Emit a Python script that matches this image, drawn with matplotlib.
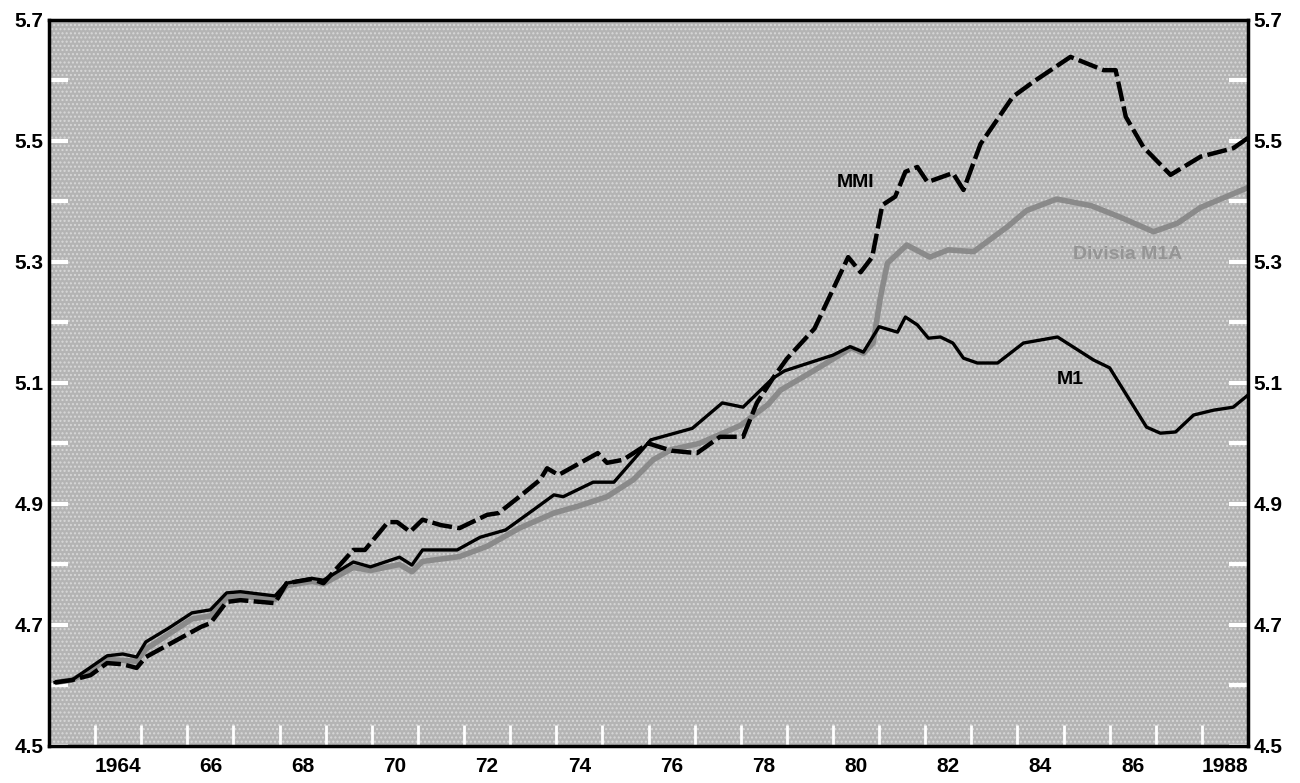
import matplotlib
matplotlib.use("Agg")
import matplotlib.pyplot as plt
import numpy as np

# series (log levels), dates in years
m1_dates = [1963.13, 1963.5, 1963.9, 1964.26, 1964.6, 1964.9, 1965.1, 1965.6, 1966.1, 1966.5,
            1966.85, 1967.15, 1967.9, 1968.15, 1968.7, 1968.95, 1969.6, 1969.97, 1970.6, 1970.87,
            1971.1, 1971.85, 1972.35, 1972.9, 1973.5, 1973.95, 1974.15, 1974.8, 1975.25, 1976.05,
            1976.95, 1977.6, 1978.05, 1978.7, 1978.95, 1980.0, 1980.37, 1980.66, 1981.0, 1981.4,
            1981.57, 1981.83, 1982.07, 1982.33, 1982.6, 1982.83, 1983.13, 1983.57, 1984.13, 1984.87,
            1985.65, 1986.0, 1986.8, 1987.1, 1987.43, 1987.82, 1988.25, 1988.68, 1989.0]
m1_vals = [4.605, 4.609, 4.630, 4.649, 4.652, 4.647, 4.672, 4.695, 4.720, 4.725,
           4.753, 4.755, 4.748, 4.769, 4.777, 4.774, 4.804, 4.796, 4.812, 4.799,
           4.824, 4.824, 4.845, 4.857, 4.890, 4.915, 4.912, 4.936, 4.936, 5.006,
           5.025, 5.067, 5.060, 5.108, 5.120, 5.146, 5.160, 5.151, 5.193, 5.184,
           5.209, 5.196, 5.174, 5.176, 5.166, 5.141, 5.133, 5.133, 5.166, 5.176,
           5.138, 5.125, 5.027, 5.017, 5.019, 5.047, 5.055, 5.060, 5.080]

mmi_dates = [1963.13, 1963.5, 1963.9, 1964.26, 1964.6, 1964.9, 1965.1, 1965.7, 1966.3, 1966.5,
             1966.85, 1967.15, 1967.9, 1968.15, 1968.7, 1968.95, 1969.6, 1969.85, 1970.35, 1970.55,
             1970.83, 1971.1, 1971.5, 1971.9, 1972.5, 1972.75, 1973.2, 1973.65, 1973.8, 1974.05,
             1974.9, 1975.1, 1975.45, 1976.0, 1976.5, 1977.05, 1977.55, 1978.05, 1978.35, 1978.7,
             1979.0, 1979.6, 1980.33, 1980.6, 1980.85, 1981.07, 1981.35, 1981.57, 1981.83, 1982.05,
             1982.6, 1982.83, 1983.2, 1983.9, 1984.35, 1985.15, 1985.87, 1986.13, 1986.35, 1986.73,
             1987.32, 1987.97, 1988.68, 1989.0]
mmi_vals = [4.605, 4.609, 4.617, 4.637, 4.635, 4.629, 4.647, 4.672, 4.697, 4.703,
            4.738, 4.741, 4.736, 4.769, 4.776, 4.769, 4.824, 4.824, 4.870, 4.870,
            4.854, 4.874, 4.865, 4.860, 4.882, 4.885, 4.912, 4.940, 4.959, 4.948,
            4.984, 4.968, 4.973, 5.000, 4.988, 4.984, 5.011, 5.011, 5.067, 5.108,
            5.140, 5.190, 5.308, 5.283, 5.308, 5.394, 5.408, 5.449, 5.457, 5.432,
            5.447, 5.419, 5.495, 5.573, 5.598, 5.639, 5.617, 5.617, 5.540, 5.490,
            5.444, 5.474, 5.488, 5.505]

div_dates = [1963.13, 1963.5, 1963.9, 1964.26, 1964.9, 1965.1, 1966.1, 1966.5, 1966.85, 1967.15,
             1967.9, 1968.15, 1968.7, 1968.95, 1969.6, 1969.97, 1970.6, 1970.87, 1971.1, 1971.9,
             1972.5, 1973.2, 1973.95, 1974.5, 1975.1, 1975.67, 1976.1, 1976.5, 1977.1, 1978.0,
             1978.6, 1978.86, 1979.6, 1980.4, 1980.66, 1980.87, 1981.03, 1981.18, 1981.6, 1982.1,
             1982.5, 1983.05, 1983.78, 1984.2, 1984.85, 1985.6, 1986.23, 1986.95, 1987.47, 1987.97,
             1989.0]
div_vals = [4.605, 4.609, 4.625, 4.643, 4.640, 4.660, 4.710, 4.715, 4.745, 4.748,
            4.742, 4.765, 4.772, 4.768, 4.795, 4.790, 4.800, 4.788, 4.805, 4.813,
            4.830, 4.860, 4.885, 4.897, 4.912, 4.940, 4.973, 4.990, 5.000, 5.030,
            5.065, 5.088, 5.121, 5.158, 5.149, 5.166, 5.242, 5.298, 5.328, 5.308,
            5.320, 5.317, 5.358, 5.385, 5.404, 5.393, 5.374, 5.350, 5.364, 5.390,
            5.423]

year_labels = ["1964", "66", "68", "70", "72", "74", "76", "78", "80", "82", "84", "86", "1988"]
label_years = [1964, 1966, 1968, 1970, 1972, 1974, 1976, 1978, 1980, 1982, 1984, 1986, 1988]

plt.rcParams['font.family'] = ['Liberation Sans', 'DejaVu Sans']
plt.rcParams['hatch.linewidth'] = 1.0

fig = plt.figure(figsize=(13, 7.83), dpi=100)
ax = fig.add_axes([0.0377, 0.0473, 0.9223, 0.9272])
ax.set_facecolor('#b4b4b4')
ax.add_patch(plt.Rectangle((0, 0), 1, 1, transform=ax.transAxes, facecolor='none',
                           edgecolor='#d8d8d8', hatch='....', lw=0, zorder=0))

ax.plot(div_dates, div_vals, color='#8a8a8a', lw=4, solid_capstyle='butt', zorder=2)
ax.plot(m1_dates, m1_vals, color='black', lw=2.4, zorder=3)
ax.plot(mmi_dates, mmi_vals, color='black', lw=3.2, dashes=(4.5, 1.2), zorder=4)

ax.text(1980.5, 5.432, "MMI", fontsize=14, fontweight='bold', ha='center', va='center')
ax.text(1985.15, 5.105, "M1", fontsize=14, fontweight='bold', ha='center', va='center')
ax.text(1986.4, 5.312, "Divisia M1A", fontsize=14, fontweight='bold', color='#959595',
        ha='center', va='center')

ax.set_xlim(1963, 1989)
ax.set_ylim(4.5, 5.7)

# year boundary ticks (white, inside) and mid-year labels
ax.set_xticks(np.arange(1964, 1989), minor=True)
ax.set_xticks([y + 0.5 for y in label_years])
ax.set_xticklabels(year_labels, fontsize=15, fontweight='bold')
ax.tick_params(axis='x', which='major', length=0, pad=8)
ax.tick_params(axis='x', which='minor', direction='in', length=15, width=2, color='white')

ax.set_yticks(np.round(np.arange(4.5, 5.71, 0.2), 1))
ax.set_yticks(np.round(np.arange(4.6, 5.7, 0.2), 1), minor=True)
ax.set_yticklabels([f"{v:.1f}" for v in np.arange(4.5, 5.71, 0.2)], fontsize=15, fontweight='bold')
ax.tick_params(axis='y', which='both', direction='in', length=14, width=3, color='white',
               left=True, right=True, labelleft=True, labelright=True, pad=4)

for s in ax.spines.values():
    s.set_linewidth(2.5)
    s.set_color('black')

fig.savefig("out.png", dpi=100)
